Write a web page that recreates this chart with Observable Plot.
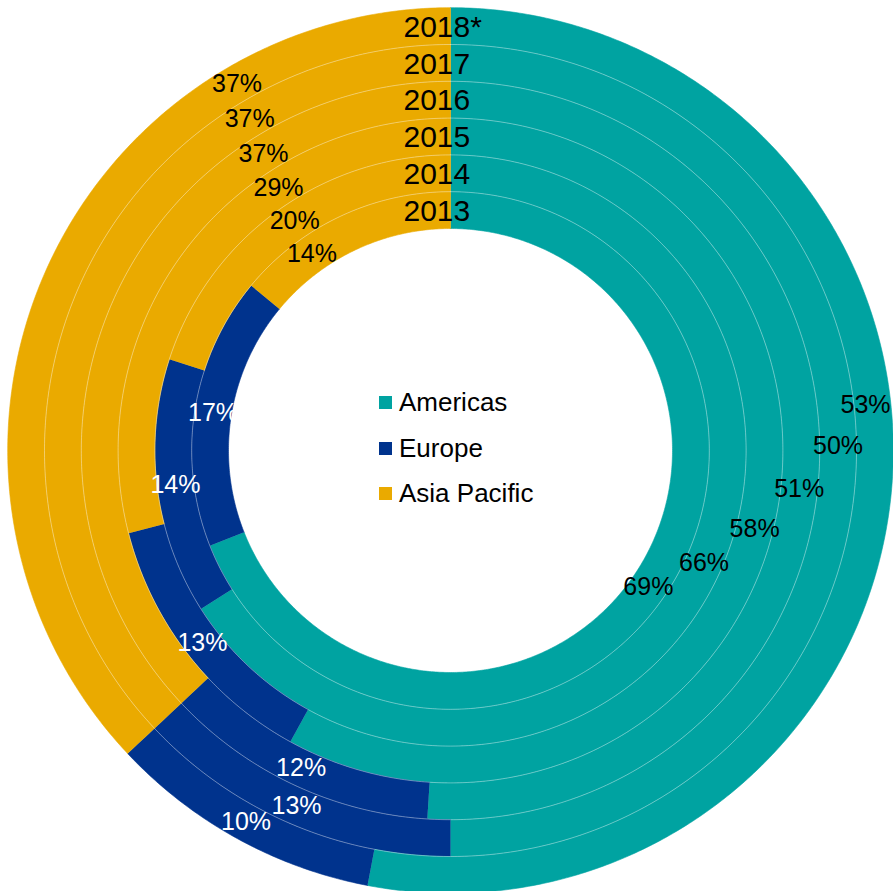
<!DOCTYPE html>
<html><head><meta charset="utf-8">
<script src="https://cdn.jsdelivr.net/npm/d3@7"></script>
<script src="https://cdn.jsdelivr.net/npm/@observablehq/plot@0.6"></script>
<style>
html,body{margin:0;padding:0;background:#fff;}
#wrap{position:relative;width:893px;height:891px;font-family:"Liberation Sans",Arial,sans-serif;}
#legend{position:absolute;left:379px;top:380px;}
.row{display:flex;align-items:center;height:45.5px;font-size:26px;color:#000;white-space:nowrap;}
.sw{width:13px;height:13px;margin-right:7px;flex:none;}
</style></head><body><div id="wrap"><div id="chart"></div><div id="legend"></div></div>
<script>
const years = ["2013", "2014", "2015", "2016", "2017", "2018*"];
const regions = ["Americas", "Europe", "Asia Pacific"];
const americas = [69, 66, 58, 51, 50, 53];
const europe = [17, 14, 13, 12, 13, 10];
const asiaPacific = [14, 20, 29, 37, 37, 37];

const colors = ["#00A3A1", "#00338D", "#EAAA00"];
const series = [americas, europe, asiaPacific];

// layout (pixels in data units relative to centre)
const R0 = 222, RW = 36.8;
const XMIN = -450, XMAX = 443;
const deg = Math.PI / 180;
// label placement rules (degrees clockwise from top), by ring index i
const labelAngle = (j, i, mid) =>
  j === 0 ? 124.6 - 11.4 * i + 0.65 * i * i :
  j === 2 ? 324.8 + 1.0 * i :
  mid;

const polys = [];
const labels = [];
years.forEach((yr, i) => {
  const rIn = R0 + i * RW, rOut = rIn + RW, rMid = rIn + RW / 2;
  let cum = 0;
  regions.forEach((reg, j) => {
    const v = series[j][i];
    const f0 = cum / 100, f1 = (cum + v) / 100;
    cum += v;
    const a0 = f0 * 360, a1 = f1 * 360;
    const n = Math.max(2, Math.ceil((a1 - a0) / 0.5));
    const key = yr + "|" + reg;
    for (let k = 0; k <= n; k++) {
      const a = (a0 + (a1 - a0) * k / n) * deg;
      polys.push({key, region: reg, x: rOut * Math.sin(a), y: rOut * Math.cos(a)});
    }
    for (let k = n; k >= 0; k--) {
      const a = (a0 + (a1 - a0) * k / n) * deg;
      polys.push({key, region: reg, x: rIn * Math.sin(a), y: rIn * Math.cos(a)});
    }
    const la = labelAngle(j, i, (a0 + a1) / 2) * deg;
    let lx = rMid * Math.sin(la);
    lx = Math.min(lx, XMAX - 28);
    labels.push({region: reg, text: v + "%", x: lx, y: rMid * Math.cos(la)});
  });
});

const seps = [];
for (let b = 1; b < years.length; b++) {
  const r = R0 + b * RW;
  for (let a = 0; a <= 360; a += 0.5) seps.push({b, x: r * Math.sin(a * deg), y: r * Math.cos(a * deg)});
}

const yearLabels = years.map((yr, i) => ({text: yr, x: 0, y: R0 + i * RW + RW / 2}));

const chart = Plot.plot({
  width: 893,
  height: 891,
  margin: 0,
  x: {domain: [XMIN, XMAX], axis: null},
  y: {domain: [-441, 450], axis: null},
  color: {domain: regions, range: colors},
  style: {fontFamily: '"Liberation Sans", Arial, sans-serif', background: "#fff", overflow: "visible"},
  marks: [
    Plot.line(polys, {x: "x", y: "y", z: "key", fill: "region", stroke: "region", strokeWidth: 0.6, curve: "linear"}),
    Plot.line(seps, {x: "x", y: "y", z: "b", stroke: "#ffffff", strokeWidth: 0.7, strokeOpacity: 0.55, curve: "linear"}),
    Plot.text(labels.filter(d => d.region !== "Europe"), {x: "x", y: "y", text: "text", fill: "#000", fontSize: 25}),
    Plot.text(labels.filter(d => d.region === "Europe"), {x: "x", y: "y", text: "text", fill: "#fff", fontSize: 25}),
    Plot.text(yearLabels, {x: "x", y: "y", text: "text", textAnchor: "start", dx: -47, dy: 1, fill: "#000", fontSize: 30})
  ]
});
document.getElementById("chart").appendChild(chart);

const legend = document.getElementById("legend");
regions.forEach((r, j) => {
  const row = document.createElement("div");
  row.className = "row";
  const sw = document.createElement("span");
  sw.className = "sw";
  sw.style.background = colors[j];
  const t = document.createElement("span");
  t.textContent = r;
  row.appendChild(sw);
  row.appendChild(t);
  legend.appendChild(row);
});
</script></body></html>
